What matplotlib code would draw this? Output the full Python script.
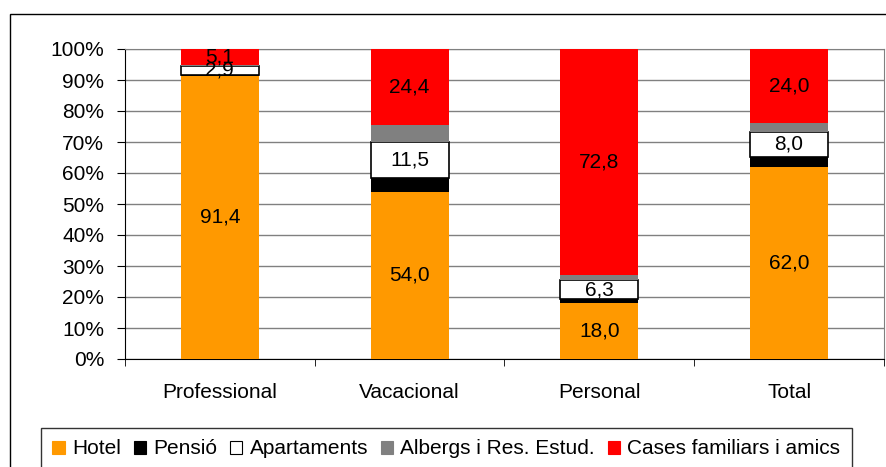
import numpy as np
import matplotlib
matplotlib.use("Agg")
import matplotlib.pyplot as plt
import matplotlib.patches as mpatches

plt.rcParams['font.family'] = ['Liberation Sans', 'DejaVu Sans']

# categories and series
categories = ["Professional", "Vacacional", "Personal", "Total"]
series_names = ["Hotel", "Pensió", "Apartaments", "Albergs i Res. Estud.",
                "Cases familiars i amics"]
hotel = [91.4, 54.0, 18.0, 62.0]
pensio = [0.3, 4.4, 1.2, 3.3]
apartaments = [2.9, 11.5, 6.3, 8.0]
albergs = [0.3, 5.7, 1.7, 2.7]
cases = [5.1, 24.4, 72.8, 24.0]
# which series get a value label
labelled = [True, False, True, False, True]

colors = ["#ff9900", "#000000", "#ffffff", "#808080", "#ff0000"]
fs = 15

fig = plt.figure(figsize=(8.87, 4.67), dpi=100)
ax = fig.add_axes([125/887, 1-359/467, 759/887, 310/467])

x = np.arange(len(categories))
width = 0.41
bottom = np.zeros(len(categories))
all_series = [hotel, pensio, apartaments, albergs, cases]

for vals, col, lab in zip(all_series, colors, labelled):
    vals = np.array(vals)
    ec = "black" if col == "#ffffff" else "none"
    ax.bar(x, vals, width, bottom=bottom, color=col, edgecolor=ec,
           linewidth=1.2, zorder=3)
    if lab:
        for xi, b, v in zip(x, bottom, vals):
            ax.text(xi, b + v/2, ("%.1f" % v).replace(".", ","),
                    ha="center", va="center", fontsize=fs, zorder=4)
    bottom += vals

ax.set_xlim(-0.5, len(categories) - 0.5)
ax.set_ylim(0, 100)
ax.set_yticks(np.arange(0, 101, 10))
ax.set_yticklabels(["%d%%" % t for t in range(0, 101, 10)], fontsize=fs)
ax.set_xticks(x)
ax.set_xticklabels(categories, fontsize=fs)
ax.tick_params(axis="x", length=0, pad=17)
ax.set_xticks(np.arange(-0.5, len(categories)), minor=True)
ax.tick_params(axis="x", which="minor", length=5, direction="out")
ax.tick_params(axis="y", length=6, direction="out", pad=9)
ax.yaxis.grid(True, color="#808080", linewidth=1.0, zorder=0)

for side in ["top", "right"]:
    ax.spines[side].set_color("#808080")
ax.spines["left"].set_color("black")
ax.spines["bottom"].set_color("black")

# outer chart frame
fig.patches.append(mpatches.Rectangle((10/887, -0.1), 1.0, 1 - 14/467 + 0.1,
                                      transform=fig.transFigure, fill=False,
                                      edgecolor="black", linewidth=1.0))

handles = [mpatches.Patch(facecolor=c, edgecolor="black" if c == "#ffffff" else c,
                          linewidth=0.8, label=n)
           for c, n in zip(colors, series_names)]
leg = fig.legend(handles=handles, loc="upper left",
                 bbox_to_anchor=(41/887, 1 - 428/467), ncol=5, fontsize=fs,
                 frameon=True, fancybox=False, handlelength=0.6,
                 handleheight=0.6, handletextpad=0.35, columnspacing=0.6,
                 borderpad=0.55, borderaxespad=0)
leg.get_frame().set_edgecolor("black")
leg.get_frame().set_linewidth(1.0)

fig.savefig("out.png", dpi=100)
